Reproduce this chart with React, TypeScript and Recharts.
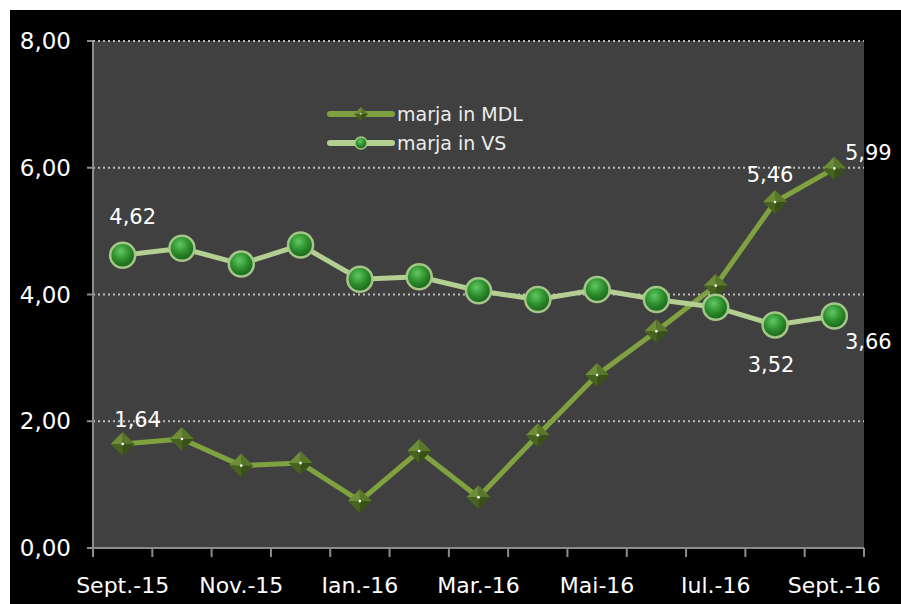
import { LineChart, Line, XAxis, YAxis, CartesianGrid, Legend } from "recharts";

const months = [
  "Sept.-15", "Oct.-15", "Nov.-15", "Dec.-15", "Ian.-16", "Feb.-16", "Mar.-16",
  "Apr.-16", "Mai-16", "Iun.-16", "Iul.-16", "Aug.-16", "Sept.-16",
];
const marjaMDL = [1.64, 1.72, 1.3, 1.34, 0.74, 1.53, 0.8, 1.78, 2.73, 3.42, 4.14, 5.46, 5.99];
const marjaVS = [4.62, 4.73, 4.48, 4.78, 4.24, 4.28, 4.06, 3.92, 4.08, 3.92, 3.8, 3.52, 3.66];
const yTicks = [0, 2, 4, 6, 8];

const data = months.map((m, i) => ({ x: i + 0.5, month: m, mdl: marjaMDL[i], vs: marjaVS[i] }));
const xTicks = months.map((_, i) => i).concat(months.length);

const W = 891;
const H = 594;
const M = { top: 31, right: 37, left: 13, bottom: 11 };
const Y_W = 70;
const STEP = (W - M.left - M.right - Y_W) / months.length;

const FONT = "'DejaVu Sans', sans-serif";
const MDL_COLOR = "#7fa13f";
const VS_COLOR = "#b4cf92";

const fmt = (v: number) => v.toFixed(2).replace(".", ",");

// label offsets for the few points that carry a value label
const mdlLabels: Record<number, [number, number]> = { 0: [15, -24], 11: [-5, -27], 12: [34, -15] };
const vsLabels: Record<number, [number, number]> = { 0: [10, -38], 11: [-4, 40], 12: [34, 26] };

function Diamond({ cx, cy, h = 12 }: { cx: number; cy: number; h?: number }) {
  const t = `${cx},${cy - h}`;
  const r = `${cx + h},${cy}`;
  const b = `${cx},${cy + h}`;
  const l = `${cx - h},${cy}`;
  const c = `${cx},${cy}`;
  return (
    <g>
      <polygon points={`${t} ${l} ${c}`} fill="#6d8d37" />
      <polygon points={`${t} ${r} ${c}`} fill="#58772a" />
      <polygon points={`${b} ${r} ${c}`} fill="#3a5217" />
      <polygon points={`${b} ${l} ${c}`} fill="#48621f" />
      <circle cx={cx} cy={cy} r={h > 8 ? 1.3 : 0.8} fill="#ffffff" />
    </g>
  );
}

function Ball({ cx, cy, r = 12.5 }: { cx: number; cy: number; r?: number }) {
  return <circle cx={cx} cy={cy} r={r} fill="url(#vsGrad)" stroke="#a4c688" strokeWidth={r > 8 ? 2.5 : 1.5} />;
}

const renderDiamond = (p: any) => <Diamond key={`d-${p.index}`} cx={p.cx} cy={p.cy} />;
const renderBall = (p: any) => <Ball key={`b-${p.index}`} cx={p.cx} cy={p.cy} />;

const makeLabel = (offsets: Record<number, [number, number]>) => (p: any) => {
  const o = offsets[p.index];
  if (!o) return null;
  return (
    <text
      key={`l-${p.index}`}
      x={p.x + o[0]}
      y={p.y + o[1]}
      textAnchor="middle"
      dominantBaseline="central"
      fill="#ffffff"
      fontSize={21}
      fontFamily={FONT}
    >
      {fmt(p.value)}
    </text>
  );
};

const XTick = (p: any) => {
  const i = p.payload.value;
  if (i % 2 !== 0 || i >= months.length) return <g />;
  return (
    <text x={p.x + STEP / 2} y={p.y} dy="0.71em" textAnchor="middle" fill="#ffffff" fontSize={22} fontFamily={FONT}>
      {months[i]}
    </text>
  );
};

const legendItems = [
  { name: "marja in MDL", color: MDL_COLOR, kind: "diamond" },
  { name: "marja in VS", color: VS_COLOR, kind: "ball" },
];

function LegendBox() {
  return (
    <div style={{ display: "flex", flexDirection: "column", gap: 5 }}>
      {legendItems.map((it) => (
        <div key={it.name} style={{ display: "flex", alignItems: "center", height: 24 }}>
          <svg width={70} height={24}>
            <line x1={4} x2={66} y1={12} y2={12} stroke={it.color} strokeWidth={6} strokeLinecap="round" />
            {it.kind === "diamond" ? <Diamond cx={35} cy={12} h={7} /> : <Ball cx={35} cy={12} r={6} />}
          </svg>
          <span style={{ color: "#ececec", fontSize: 19, fontFamily: FONT, marginLeft: 1, lineHeight: "24px" }}>
            {it.name}
          </span>
        </div>
      ))}
    </div>
  );
}

export default function App() {
  return (
    <div style={{ position: "absolute", left: 10, top: 10, width: W, height: H, background: "#000000" }}>
      <LineChart width={W} height={H} data={data} margin={M}>
        <defs>
          <radialGradient id="vsGrad" cx="42%" cy="35%" r="65%">
            <stop offset="0%" stopColor="#62c862" />
            <stop offset="55%" stopColor="#2c8e2c" />
            <stop offset="100%" stopColor="#1b631b" />
          </radialGradient>
        </defs>
        <CartesianGrid
          vertical={false}
          fill="#404040"
          stroke="#bdbdbd"
          strokeDasharray="2 3"
          strokeWidth={2}
          fillOpacity={1}
        />
        <XAxis
          dataKey="x"
          type="number"
          domain={[0, months.length]}
          ticks={xTicks}
          interval={0}
          height={45}
          axisLine={{ stroke: "#8c8c8c", strokeWidth: 2 }}
          tickLine={{ stroke: "#8c8c8c", strokeWidth: 2 }}
          tickSize={9}
          tickMargin={20}
          tick={XTick}
        />
        <YAxis
          domain={[0, 8]}
          ticks={yTicks}
          width={Y_W}
          tickFormatter={fmt}
          axisLine={{ stroke: "#8c8c8c", strokeWidth: 2 }}
          tickLine={{ stroke: "#8c8c8c", strokeWidth: 2 }}
          tickSize={6}
          tickMargin={16}
          tick={{ fill: "#ffffff", fontSize: 23, fontFamily: FONT }}
        />
        <Legend
          layout="vertical"
          align="center"
          verticalAlign="middle"
          content={() => <LegendBox />}
          wrapperStyle={{ top: 92, left: 316, width: "auto" }}
        />
        <Line
          dataKey="mdl"
          name="marja in MDL"
          stroke={MDL_COLOR}
          strokeWidth={5}
          dot={renderDiamond}
          activeDot={false}
          label={makeLabel(mdlLabels)}
          isAnimationActive={false}
        />
        <Line
          dataKey="vs"
          name="marja in VS"
          stroke={VS_COLOR}
          strokeWidth={5}
          dot={renderBall}
          activeDot={false}
          label={makeLabel(vsLabels)}
          isAnimationActive={false}
        />
      </LineChart>
    </div>
  );
}
